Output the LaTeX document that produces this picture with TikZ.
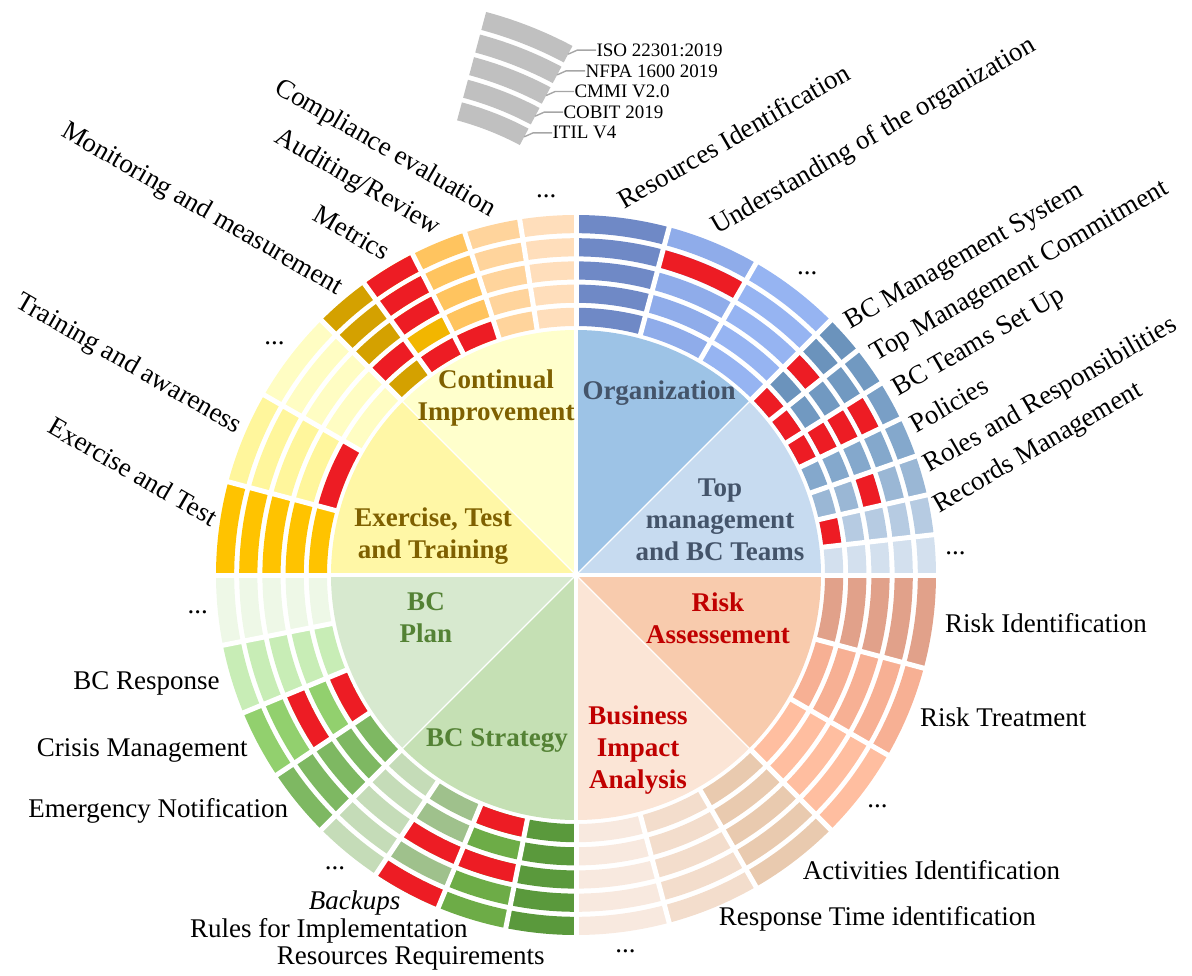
\documentclass[tikz,border=0pt]{standalone}
\usepackage{fontspec}
\setmainfont{Liberation Serif}
\usetikzlibrary{calc}
% inner pie
\definecolor{pTM}{HTML}{C7DBF0}\definecolor{pOrg}{HTML}{9DC3E6}
\definecolor{pCI}{HTML}{FFFFCC}\definecolor{pEx}{HTML}{FFF7A6}
\definecolor{pPlan}{HTML}{D7E9CF}\definecolor{pStrat}{HTML}{C5E0B4}
\definecolor{pBIA}{HTML}{FBE5D6}\definecolor{pRisk}{HTML}{F8CBAD}
% ring columns
\definecolor{tmA}{HTML}{D3E0EE}\definecolor{tmB}{HTML}{B6CBE2}\definecolor{tmC}{HTML}{9AB7D5}
\definecolor{tmD}{HTML}{84A8CC}\definecolor{tmE}{HTML}{799FC6}\definecolor{tmF}{HTML}{7199C1}
\definecolor{tmG}{HTML}{6B93BC}
\definecolor{orA}{HTML}{96B4F2}\definecolor{orB}{HTML}{8FACEA}\definecolor{orC}{HTML}{6F89C6}
\definecolor{ciA}{HTML}{FFDEBB}\definecolor{ciB}{HTML}{FFD49C}\definecolor{ciC}{HTML}{FFC45F}
\definecolor{ciD}{HTML}{F2B600}\definecolor{ciE}{HTML}{D4A100}
\definecolor{exA}{HTML}{FFFDC3}\definecolor{exB}{HTML}{FFF69C}\definecolor{exC}{HTML}{FFC300}
\definecolor{plA}{HTML}{EEF8E7}\definecolor{plB}{HTML}{C8EDB6}\definecolor{plC}{HTML}{92D06E}
\definecolor{plD}{HTML}{7EB862}
\definecolor{stA}{HTML}{C5DCB8}\definecolor{stB}{HTML}{9FC18C}\definecolor{stC}{HTML}{6DAC47}
\definecolor{stD}{HTML}{5A993C}
\definecolor{biA}{HTML}{F8E9DF}\definecolor{biB}{HTML}{F3DDCC}\definecolor{biC}{HTML}{E9CAAF}
\definecolor{rkA}{HTML}{FFBEA0}\definecolor{rkB}{HTML}{F7B094}\definecolor{rkC}{HTML}{E1A18A}
\definecolor{cred}{HTML}{ED1C24}
% texts
\definecolor{ciText}{HTML}{7F6000}\definecolor{orgText}{HTML}{44546A}
\definecolor{bcText}{HTML}{548235}\definecolor{rkText}{HTML}{C00000}
\definecolor{legBand}{HTML}{C0C0C0}\definecolor{legGray}{HTML}{A6A6A6}

\newcommand\ringcell[4]{%
  \pgfmathsetmacro\rA{249+(#3-1)*23.2}%
  \pgfmathsetmacro\rB{\rA+18.2}%
  \fill[#4] (#1:\rA) arc[start angle=#1,end angle=#2,radius=\rA] -- (#2:\rB) arc[start angle=#2,end angle=#1,radius=\rB] -- cycle;}
\newcommand\ringcol[3]{\foreach \bb in {1,...,5}{\ringcell{#1}{#2}{\bb}{#3}}}

\tikzset{
  gapline/.style={white, line width=2.5pt},
  ringlab/.style={font=\fontsize{13.5}{16}\selectfont, inner sep=0pt},
  ctext/.style={font=\bfseries\fontsize{13.5}{16}\selectfont, align=center, inner sep=0pt},
  leglab/.style={font=\fontsize{9.5}{10}\selectfont, inner sep=0pt, anchor=west},
  legline/.style={draw=legGray, line width=0.7pt},
  dotlab/.style={font=\fontsize{13.5}{16}\selectfont, inner sep=0pt, anchor=center},
}

\begin{document}
\begin{tikzpicture}[x=0.5pt,y=0.5pt]
\useasboundingbox (-576,-400) rectangle (616,575);

% ---------- inner pie ----------
\foreach \a/\c in {0/pTM,45/pOrg,90/pCI,135/pEx,180/pPlan,225/pStrat,270/pBIA,315/pRisk}{
  \pgfmathsetmacro\e{\a+45}
  \fill[\c] (0,0) -- (\a:245) arc[start angle=\a,end angle=\e,radius=245] -- cycle;}
\foreach \a in {45,135,225,315}{\draw[white, line width=0.6pt] (0,0) -- (\a:246);}
\draw[white, line width=2.2pt] (180:250) -- (0:250);
\draw[white, line width=2.2pt] (270:250) -- (90:250);

% ---------- ring ----------
\foreach \a/\b/\c in {0/6.4286/tmA,6.4286/12.8571/tmB,12.8571/19.2857/tmC,19.2857/25.7143/tmD,
  25.7143/32.1429/tmE,32.1429/38.5714/tmF,38.5714/45/tmG,
  45/60/orA,60/75/orB,75/90/orC,
  90/99/ciA,99/108/ciB,108/117/ciC,117/126/ciD,126/135/ciE,
  135/150/exA,150/165/exB,165/180/exC,
  180/191.25/plA,191.25/202.5/plB,202.5/213.75/plC,213.75/225/plD,
  225/236.25/stA,236.25/247.5/stB,247.5/258.75/stC,258.75/270/stD,
  270/285/biA,285/300/biB,300/315/biC,
  315/330/rkA,330/345/rkB,345/360/rkC}{\ringcol{\a}{\b}{\c}}

% red cells
\foreach \a/\b/\k in {6.4286/12.8571/1,12.8571/19.2857/3,
  25.7143/32.1429/1,25.7143/32.1429/2,25.7143/32.1429/3,25.7143/32.1429/4,
  32.1429/38.5714/1,38.5714/45/1,38.5714/45/3,
  60/75/4,
  108/117/1,117/126/1,117/126/3,117/126/4,117/126/5,126/135/2,
  150/165/1,
  202.5/213.75/1,202.5/213.75/3,
  236.25/247.5/3,236.25/247.5/5,247.5/258.75/1,247.5/258.75/3}{\ringcell{\a}{\b}{\k}{cred}}

% white radial gaps
\foreach \a in {0,6.4286,12.8571,19.2857,25.7143,32.1429,38.5714,45,60,75,90,
  99,108,117,126,135,150,165,180,191.25,202.5,213.75,225,
  236.25,247.5,258.75,270,285,300,315,330,345}{\draw[gapline] (\a:246) -- (\a:363);}

% ---------- centre texts ----------
\node[ctext, text=ciText] (tCI) at (-80,177) {Continual\\Improvement};
\node[ctext, text=orgText] (tOrg) at (83,182) {Organization};
\node[ctext, text=orgText] (tTM) at (144,55) {Top\\management\\and BC Teams};
\node[ctext, text=ciText] (tEx) at (-143,39) {Exercise, Test\\and Training};
\node[ctext, text=bcText] (tPlan) at (-150,-43) {BC\\Plan};
\node[ctext, text=bcText] (tStrat) at (-79,-166) {BC Strategy};
\node[ctext, text=rkText] (tRisk) at (142,-43) {Risk\\Assessement};
\node[ctext, text=rkText] (tBIA) at (62,-175) {Business\\Impact\\Analysis};

% ---------- rotated labels (upper right) ----------
\node[ringlab, rotate=30, anchor=base west] (l1) at (82.5:368) {Resources Identification};
\node[ringlab, rotate=30, anchor=base west] (l2) at (67.5:368) {Understanding of the organization};
\node[ringlab, rotate=30, anchor=base west] (l3) at (41.786:368) {BC Management System};
\node[ringlab, rotate=30, anchor=base west] (l4) at (35.357:368) {Top Management Commitment};
\node[ringlab, rotate=30, anchor=base west] (l5) at (28.929:368) {BC Teams Set Up};
\node[ringlab, rotate=30, anchor=base west] (l6) at (22.5:368) {Policies};
\node[ringlab, rotate=30, anchor=base west] (l7) at (16.071:368) {Roles and Responsibilities};
\node[ringlab, rotate=30, anchor=base west] (l8) at (9.643:368) {Records Management};
% ---------- rotated labels (upper left) ----------
\node[ringlab, rotate=-30, anchor=base east] (l9) at (130.5:368) {Monitoring and measurement};
\node[ringlab, rotate=-30, anchor=base east] (l10) at (121.5:368) {Metrics};
\node[ringlab, rotate=-30, anchor=base east] (l11) at (112.5:368) {Auditing/Review};
\node[ringlab, rotate=-30, anchor=base east] (l12) at (103.5:368) {Compliance evaluation};
\node[ringlab, rotate=-30, anchor=base east] (l13) at (157.5:368) {Training and awareness};
\node[ringlab, rotate=-30, anchor=base east] (l14) at (172.5:368) {Exercise and Test};
% ---------- horizontal labels ----------
\node[ringlab, anchor=west] (l15) at (352.5:372) {Risk Identification};
\node[ringlab, anchor=west] (l16) at (337.5:372) {Risk Treatment};
\node[ringlab, anchor=west] (l17) at (307.5:372) {Activities Identification};
\node[ringlab, anchor=west] (l18) at (292.5:372) {Response Time identification};
\node[ringlab, anchor=east] (l19) at (196.875:372) {BC Response};
\node[ringlab, anchor=east] (l20) at (208.125:372) {Crisis Management};
\node[ringlab, anchor=east] (l21) at (219.375:372) {Emergency Notification};
\node[ringlab, anchor=east] (l22) at (241.875:372) {\textit{Backups}};
\node[ringlab, anchor=east] (l23) at (253.125:372) {Rules for Implementation};
\node[ringlab, anchor=east] (l24) at (-31,-383) {Resources Requirements};
% ---------- dots ----------
\foreach \a [count=\i] in {52.5,3.214,94.5,142.5,185.625,230.625,277.5,322.5}{
  \node[dotlab] (d\i) at (\a:380) {...};}

% ---------- legend ----------
\coordinate (L) at (-196,167);
\foreach \j/\t [count=\i] in {0/ISO 22301:2019,1/NFPA 1600 2019,2/CMMI V2.0,3/COBIT 2019,4/ITIL V4}{
  \pgfmathsetmacro\ro{410-23.4*\j}
  \pgfmathsetmacro\ri{\ro-18.6}
  \pgfmathsetmacro\rM{\ro-9.3}
  \fill[legBand] ($(L)+(62:\ri)$) arc[start angle=62,end angle=75,radius=\ri]
     -- ($(L)+(75:\ro)$) arc[start angle=75,end angle=62,radius=\ro] -- cycle;
  \coordinate (le\i) at ($(L)+(62:\rM)$);
  \node[leglab] (lt\i) at ($(le\i)+(28,4)$) {\t};
  \draw[legline] (le\i) -- ++(9,4) -- (lt\i.west);
}
\end{tikzpicture}
\end{document}
